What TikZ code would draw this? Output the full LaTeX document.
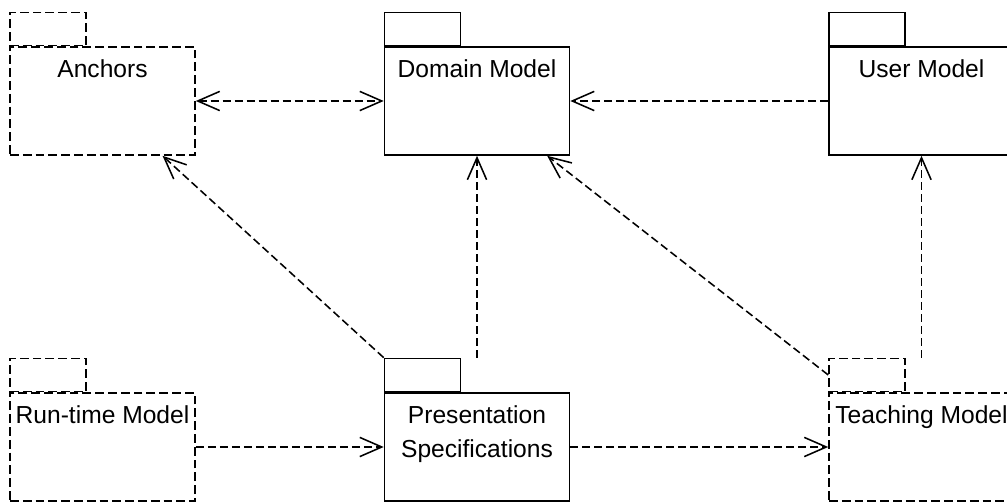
\documentclass[tikz,border=0pt]{standalone}
\usepackage{fontspec}
\setmainfont{Liberation Sans}
\usepackage{tikz}
\usetikzlibrary{arrows.meta, positioning, calc}

\begin{document}
\begin{tikzpicture}[
    x=0.025cm, y=-0.025cm,
    line width=1.1pt,
    pkg/.style={rectangle, draw, minimum width=4.625cm, minimum height=2.7cm,
               inner sep=0pt, align=center, font={\fontsize{17.5}{23.5}\selectfont},
               text height=0.775cm, text depth=1.925cm},
    pkgtab/.style={rectangle, draw, minimum width=1.9cm, minimum height=0.825cm,
                  inner sep=0pt, anchor=south west},
    virtual/.style={dash pattern=on 0.22cm off 0.1cm},
    dep/.style={dash pattern=on 0.2cm off 0.1cm, -{Straight Barb[length=0.55cm,width=0.48cm]}},
    bidep/.style={dep, {Straight Barb[length=0.55cm,width=0.48cm]}-{Straight Barb[length=0.55cm,width=0.48cm]}}
]
\useasboundingbox (0,0) rectangle (1007,503);

% Top row
\node[pkg, virtual] at (102.5,101) (anchors) {Anchors};
\node[pkg] at (477,101) (domain) {Domain Model};
\node[pkg] at (921.5,101) (user) {User Model};

% Bottom row
\node[pkg, virtual] at (102.5,447) (runtime) {Run-time Model};
\node[pkg, text height=1.601cm, text depth=1.099cm] at (477,447) (pres) {Presentation\\Specifications};
\node[pkg, virtual] at (921.5,447) (teach) {Teaching Model};

% Tabs
\node[pkgtab, virtual] at (anchors.north west) (anchors-tab) {};
\node[pkgtab] at (domain.north west) (domain-tab) {};
\node[pkgtab] at (user.north west) (user-tab) {};
\node[pkgtab, virtual] at (runtime.north west) (runtime-tab) {};
\node[pkgtab] at (pres.north west) (pres-tab) {};
\node[pkgtab, virtual] at (teach.north west) (teach-tab) {};

% Dependencies
\draw[bidep] (anchors) -- (domain);
\draw[dep] (user) -- (domain);
\draw[dep] (pres-tab.north west) -- (anchors);
\draw[dep] (pres-tab.north -| pres.north) -- (domain);
\draw[dep] (teach-tab.west) -- (domain);
\draw[dep] (teach-tab.north -| teach.north) -- (user);
\draw[dep] (runtime) -- (pres);
\draw[dep] (pres) -- (teach);

\end{tikzpicture}
\end{document}
